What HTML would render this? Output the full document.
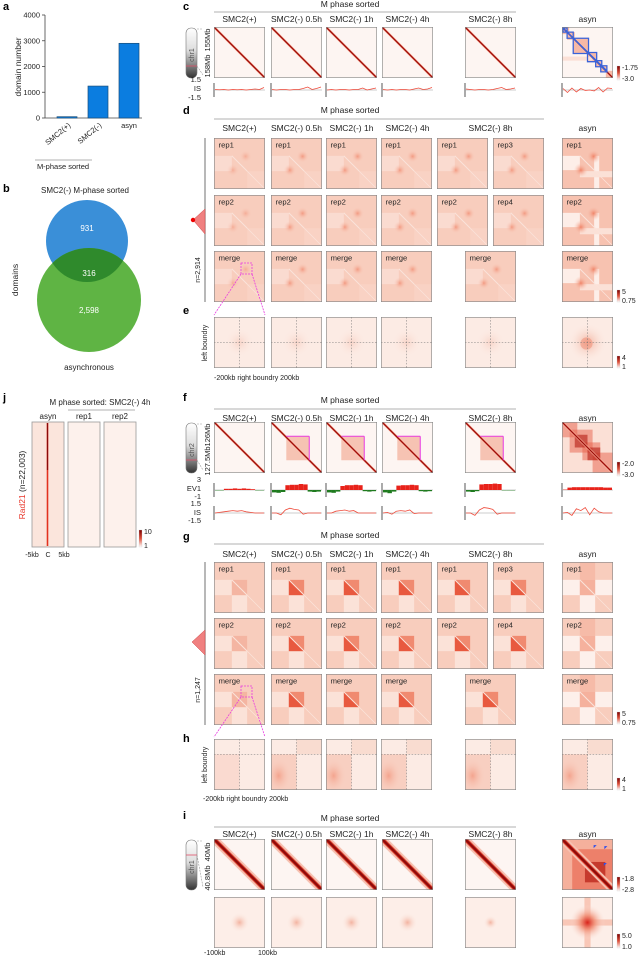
<!DOCTYPE html>
<html><head><meta charset="utf-8"><style>
html,body{margin:0;padding:0;background:#fff;}
svg{display:block;font-family:"Liberation Sans",sans-serif;}
</style></head><body>
<svg id="fig" width="640" height="959" viewBox="0 0 640 959" xmlns="http://www.w3.org/2000/svg">
<defs>
<linearGradient id="chrg" x1="0" y1="0" x2="0" y2="1"><stop offset="0" stop-color="#fff"/><stop offset="0.45" stop-color="#ddd"/><stop offset="1" stop-color="#333"/></linearGradient>
<linearGradient id="cbar" x1="0" y1="0" x2="0" y2="1"><stop offset="0" stop-color="#7a0000"/><stop offset="0.5" stop-color="#e0503a"/><stop offset="1" stop-color="#fff"/></linearGradient>
<radialGradient id="spot"><stop offset="0" stop-color="#d8231a"/><stop offset="0.4" stop-color="#f08a70" stop-opacity="0.8"/><stop offset="1" stop-color="#fbe6de" stop-opacity="0"/></radialGradient>
<radialGradient id="faint"><stop offset="0" stop-color="#f3b3a0"/><stop offset="1" stop-color="#fdf0ea" stop-opacity="0"/></radialGradient>
<radialGradient id="blob"><stop offset="0" stop-color="#f08468"/><stop offset="1" stop-color="#f8c7b6" stop-opacity="0"/></radialGradient>
<radialGradient id="hblob" cx="0.3" cy="0.6"><stop offset="0" stop-color="#f4a48e"/><stop offset="1" stop-color="#f8d0c2" stop-opacity="0"/></radialGradient>
</defs>
<g id="root"></g>
</svg>
<script>
// ---- bar chart data (panel a)
const barCategories = ['SMC2(+)', 'SMC2(-)', 'asyn'];
const barValues = [50, 1240, 2900];
const barTicks = [0, 1000, 2000, 3000, 4000];
// ---- venn data (panel b)
const vennLabels = ['931', '316', '2,598'];
// ---- insulation score tracks (panel c)
const isC = [
 [0.1,0.05,0.1,0.0,0.1,0.05,0.1,0.0,0.1,0.2,0.1,0.5],
 [0.1,0.0,0.1,0.1,0.0,0.1,0.1,0.3,0.6,0.1,0.3,0.6],
 [0.0,0.1,0.0,0.1,0.1,0.0,0.1,0.1,0.4,0.0,0.2,0.4],
 [0.1,0.0,0.1,0.0,0.1,0.1,0.0,0.2,0.4,0.1,0.2,0.5],
 [0.2,0.1,0.0,0.1,0.1,0.0,0.1,0.3,0.5,0.1,0.2,0.4],
 [0.3,-0.5,0.4,-0.4,0.3,-0.1,0.0,-0.2,0.5,-0.4,0.4,0.3]
];
// ---- EV1 tracks (panel f)
const ev1F = [
 [-0.1,-0.1,0.3,0.3,0.4,0.3,0.4,0.3,0.2,-0.1,-0.1,-0.1],
 [-0.6,-0.7,-0.5,1.2,1.3,1.3,1.5,1.4,-0.4,-0.5,-0.4,-0.3],
 [-0.6,-0.7,-0.4,1.0,1.2,1.2,1.3,1.2,-0.3,-0.4,-0.3,-0.2],
 [-0.6,-0.8,-0.4,1.1,1.2,1.2,1.3,1.2,-0.3,-0.4,-0.3,-0.2],
 [-0.4,-0.5,-0.3,1.4,1.5,1.5,1.6,1.5,-0.1,-0.1,-0.1,-0.1],
 [0.1,0.6,0.7,0.7,0.7,0.7,0.7,0.7,0.7,0.6,0.6,0.6]
];
// ---- insulation score tracks (panel f)
const isF = [
 [0.0,0.1,0.2,0.3,0.4,0.3,0.4,0.2,0.1,0.0,0.0,0.0],
 [0.0,0.0,-0.3,0.5,0.8,0.6,0.5,-0.2,0.0,0.0,0.0,0.0],
 [0.0,0.0,0.3,0.4,0.5,0.3,0.4,0.0,0.0,0.0,0.0,0.0],
 [0.0,0.1,-0.2,0.3,0.4,0.3,0.5,-0.1,0.0,0.0,0.0,0.0],
 [0.0,0.0,-0.4,0.5,0.9,0.8,0.6,-0.2,0.0,0.0,0.0,0.0],
 [0.0,0.1,-0.4,0.7,0.4,0.9,-0.3,0.8,0.2,0.0,0.0,0.0]
];

const NS='http://www.w3.org/2000/svg';
const root=document.getElementById('root');
function E(tag,attrs,parent){const el=document.createElementNS(NS,tag);for(const k in attrs)el.setAttribute(k,attrs[k]);(parent||root).appendChild(el);return el;}
function T(x,y,s,size,anchor,parent,extra){const el=E('text',Object.assign({x:x,y:y,'font-size':size,'text-anchor':anchor||'start',fill:'#222'},extra||{}),parent);el.textContent=s;return el;}

[['a',3,10],['b',3,192],['j',3,401],['c',183,10],['d',183,114],['e',183,314],['f',183,401],['g',183,540],['h',183,742],['i',183,819]].forEach(p=>{
 const t=T(p[1],p[2],p[0],11,'start',root,{'font-weight':'bold',fill:'#000'});
 
 
});

// ===== panel a bar chart
const ga=E('g',{});


const ay0=118, ay1=15, ax=45;
const yS=v=>ay0-(v/4000)*(ay0-ay1);
const xS=i=>67+i*31;
const yaxis=E('line',{x1:ax,y1:ay1,x2:ax,y2:ay0,stroke:'#444','stroke-width':0.8},ga);


const xaxis=E('line',{x1:ax,y1:ay0,x2:142,y2:ay0,stroke:'#444','stroke-width':0.8},ga);


barTicks.forEach(v=>{
 E('line',{x1:ax-3,y1:yS(v),x2:ax,y2:yS(v),stroke:'#444','stroke-width':0.8},ga);
 const t=T(ax-5,yS(v)+2.5,String(v),7.5,'end',ga);
 
 
});
const yt=T(0,0,'domain number',8.5,'middle',ga,{transform:'translate(21,67) rotate(-90)'});


barValues.forEach((v,i)=>{
 const b=E('rect',{x:xS(i)-10,y:yS(v),width:20,height:ay0-yS(v),fill:'#0b7de0',stroke:'#1a4f7a','stroke-width':0.7},ga);
 
 
});
barCategories.forEach((c,i)=>{
 let t;
 if(i<2) t=T(0,0,c,7.5,'end',ga,{transform:`translate(${xS(i)+4},${ay0+8}) rotate(-40)`});
 else t=T(xS(i),ay0+10,c,7.5,'middle',ga);
 
 
});
E('line',{x1:35,y1:160,x2:92,y2:160,stroke:'#999','stroke-width':0.8},ga);
const mps=T(63,169,'M-phase sorted',7.5,'middle',ga);



// ===== panel b venn
const gb=E('g',{});


const vt=T(85,193,'SMC2(-) M-phase sorted',8,'middle',gb);


const c1=E('circle',{cx:87,cy:241,r:41,fill:'#3a8fd8'},gb);


const c2=E('circle',{cx:89,cy:300,r:52,fill:'#5ab23e','fill-opacity':0.97},gb);


const cp=E('clipPath',{id:'vclip'},gb);E('circle',{cx:87,cy:241,r:41},cp);
E('circle',{cx:89,cy:300,r:52,fill:'#2f8a2c','clip-path':'url(#vclip)'},gb);
[[87,231,0],[89,276,1],[89,313,2]].forEach(p=>{
 const t=T(p[0],p[1],vennLabels[p[2]],8,'middle',gb,{fill:'#fff'});
 
 
});
const dl=T(0,0,'domains',8.5,'middle',gb,{transform:'translate(18,280) rotate(-90)'});


const asl=T(89,370,'asynchronous',8,'middle',gb);



// ===== panel j
const gj=E('g',{});


const jt=T(100,405,'M phase sorted: SMC2(-) 4h',8,'middle',gj);


E('line',{x1:68,y1:410,x2:135,y2:410,stroke:'#999','stroke-width':0.8},gj);
[['asyn',32],['rep1',68],['rep2',104]].forEach((p,i)=>{
 const t=T(p[1]+16,419,p[0],8,'middle',gj);
 
 
 const r=E('rect',{x:p[1],y:422,width:32,height:125,fill:i==0?'#fbe5dc':'#fdf1ec',stroke:'#999','stroke-width':0.8},gj);
 
 
});
E('line',{x1:47.5,y1:423,x2:47.5,y2:546,stroke:'#e2321f','stroke-width':1.6},gj);
E('line',{x1:47.5,y1:423,x2:47.5,y2:470,stroke:'#8a0a0a','stroke-width':1.2},gj);
const rad=T(0,0,'',8.5,'middle',gj,{transform:'translate(25,485) rotate(-90)'});


const ts1=E('tspan',{fill:'#e8362a'},rad);ts1.textContent='Rad21';
const ts2=E('tspan',{fill:'#222'},rad);ts2.textContent=' (n=22,003)';
[['-5kb',32],['C',48],['5kb',64]].forEach(p=>{const t=T(p[1],557,p[0],7,'middle',gj);
 
 });

function cbar(x,y,h,top,bot){
 const g=E('g',{});
 
 
 E('rect',{x:x,y:y,width:3,height:h,fill:'url(#cbar)',stroke:'#ccc','stroke-width':0.3},g);
 T(x+5,y+4,top,7,'start',g);T(x+5,y+h+1,bot,7,'start',g);
}
cbar(139,530,17,'10','1');

const S=51;
function sq(x,y,type,name,label){
 const g=E('svg',{x:x,y:y,width:S,height:S,viewBox:'0 0 100 100',preserveAspectRatio:'none'});
 
 
 const R=(a)=>E('rect',a,g), P=(a)=>E('polygon',a,g), L=(a)=>E('line',a,g), C=(a)=>E('circle',a,g);
 if(type.startsWith('hic')){
  R({x:0,y:0,width:100,height:100,fill:'#fdf5f2'});
  if(type==='hic-asyn'){
   [[0,0,14],[10,10,15],[22,22,30],[50,50,18],[66,66,12],[76,76,12],[86,86,14]].forEach(b=>R({x:b[0],y:b[1],width:b[2],height:b[2],fill:'#f7b9a6'}));
   R({x:0,y:58,width:60,height:8,fill:'#fbe0d6'});
  }
  if(type==='hic-fasyn'){
   R({x:0,y:0,width:100,height:100,fill:'#fbe0d6'});
   [[0,0,30],[15,15,45],[40,40,35],[60,60,40]].forEach(b=>R({x:b[0],y:b[1],width:b[2],height:b[2],fill:'#e8604a','fill-opacity':0.5}));
   [[25,25,25],[50,50,25]].forEach(b=>R({x:b[0],y:b[1],width:b[2],height:b[2],fill:'#b51d14','fill-opacity':0.6}));
  }
  if(type==='hic-box'){R({x:30,y:28,width:45,height:47,fill:'#f6c3b3'});}
  if(type==='hic-iasyn'){
   R({x:0,y:0,width:100,height:100,fill:'#f5b09c'});
   R({x:20,y:20,width:80,height:80,fill:'#e8604a','fill-opacity':0.6});
   R({x:45,y:45,width:40,height:40,fill:'#b51d14','fill-opacity':0.7});
  }
  const isI=type.startsWith('hic-i');
  L({x1:0,y1:0,x2:100,y2:100,stroke:'#f6c0b0','stroke-width':isI?16:5});
  L({x1:0,y1:0,x2:100,y2:100,stroke:'#d83a28','stroke-width':isI?8:3});
  L({x1:0,y1:0,x2:100,y2:100,stroke:'#8e0a0a','stroke-width':isI?4:1.6});
  if(type==='hic-box'){
   L({x1:30,y1:28,x2:75,y2:28,stroke:'#e83be0','stroke-width':2});
   L({x1:75,y1:28,x2:75,y2:75,stroke:'#e83be0','stroke-width':2});
  }
  if(type==='hic-asyn'){
   P({points:'2,2 10,2 10,10 22,10 22,22 52,22 52,50 68,50 68,66 78,66 78,76 88,76 88,86',fill:'none',stroke:'#3a62d8','stroke-width':2.5});
   P({points:'2,2 2,10 10,10 10,22 22,22 22,52 50,52 50,68 66,68 66,78 76,78 76,88 88,88',fill:'none',stroke:'#3a62d8','stroke-width':2.5});
  }
  if(type==='hic-iasyn'){
   [[62,12],[83,14],[82,47]].forEach(p=>P({points:`${p[0]},${p[1]} ${p[0]+6},${p[1]} ${p[0]},${p[1]+6}`,fill:'#2f4fe8'}));
  }
 } else if(type.startsWith('apa')){
  const k=type.split('-')[1];
  R({x:0,y:0,width:100,height:100,fill:'#f8cdbd'});
  if(k==='da'){
   R({x:0,y:0,width:100,height:100,fill:'#f7c2b0'});
   R({x:0,y:35,width:35,height:28,fill:'#fdeee8'});
   R({x:63,y:35,width:10,height:65,fill:'#fdeee8'});
   R({x:35,y:65,width:65,height:12,fill:'#fbe1d7'});
   C({cx:62,cy:36,r:14,fill:'url(#blob)'});C({cx:37,cy:63,r:14,fill:'url(#blob)'});
  } else if(k.startsWith('d')){
   R({x:0,y:35,width:35,height:30,fill:'#fadbd0'});
   R({x:65,y:65,width:35,height:35,fill:'#f9d2c4'});
   C({cx:62,cy:36,r:12,fill:'url(#blob)','fill-opacity':k==='d1'?0.7:0.45});
   C({cx:37,cy:63,r:12,fill:'url(#blob)','fill-opacity':k==='d1'?0.7:0.45});
  } else {
   const strong=k==='g1';
   R({x:0,y:35,width:35,height:30,fill:k==='ga'?'#fdf0eb':'#fbe2d8'});
   R({x:35,y:65,width:30,height:35,fill:k==='ga'?'#fdf0eb':'#fbe2d8'});
   if(k==='ga'){R({x:65,y:35,width:35,height:30,fill:'#fdf0eb'});R({x:35,y:0,width:30,height:35,fill:'#f6bba8'});}
   R({x:35,y:35,width:30,height:30,fill:strong?'#f08a70':(k==='ga'?'#f5b19d':'#f4b5a2')});
   if(strong) P({points:'35,35 35,65 65,65',fill:'#e5482f','fill-opacity':0.75});
  }
  L({x1:35,y1:35,x2:65,y2:65,stroke:'#fbe3da','stroke-width':2});
  L({x1:65,y1:65,x2:100,y2:100,stroke:'#fbe3da','stroke-width':1.5});
 } else if(type.startsWith('bd')){
  const k=type.split('-')[1];
  R({x:0,y:0,width:100,height:100,fill:'#fcebe4'});
  if(k==='e') C({cx:50,cy:50,r:30,fill:'url(#faint)','fill-opacity':0.4});
  if(k==='ea'){C({cx:50,cy:50,r:40,fill:'url(#faint)'});C({cx:48,cy:52,r:12,fill:'#f08a70','fill-opacity':0.5});}
  if(k==='h0'){R({x:0,y:30,width:50,height:70,fill:'#fadad0'});}
  if(k==='h1'){R({x:0,y:30,width:50,height:70,fill:'#f8cfc1'});R({x:0,y:30,width:50,height:70,fill:'url(#hblob)'});R({x:50,y:0,width:50,height:30,fill:'#f9dcd0'});}
  const hy = k.startsWith('h') ? 30 : 50;
  L({x1:50,y1:0,x2:50,y2:100,stroke:'#777','stroke-width':1,'stroke-dasharray':'3,3'});
  L({x1:0,y1:hy,x2:100,y2:hy,stroke:'#777','stroke-width':1,'stroke-dasharray':'3,3'});
 } else if(type.startsWith('pk')){
  R({x:0,y:0,width:100,height:100,fill:'#fdeee8'});
  if(type==='pk-a'){
   R({x:0,y:44,width:100,height:12,fill:'#f6b7a3','fill-opacity':0.7});
   R({x:44,y:0,width:12,height:100,fill:'#f6b7a3','fill-opacity':0.7});
   C({cx:50,cy:50,r:35,fill:'url(#spot)'});
  } else {
   C({cx:50,cy:50,r:type==='pk-8'?14:20,fill:'url(#faint)'});
  }
 }
 R({x:0,y:0,width:100,height:100,fill:'none',stroke:'#888','stroke-width':2.5});
 if(label){const t=E('text',{x:9,y:19,'font-size':15,fill:'#222','font-family':'Liberation Sans, sans-serif'},g);t.textContent=label;}
 return g;
}

const headers=['SMC2(+)','SMC2(-) 0.5h','SMC2(-) 1h','SMC2(-) 4h','SMC2(-) 8h','asyn'];
const colX=[214,271,326,382,465,562];
const col7=[214,271,326,381,437,493,562];
const mergeX=[214,271,326,381,465,562];

function heading(ty,ly,hy,lx2,name){
 const g=E('g',{});
 
 
 T(350,ty,'M phase sorted',8.5,'middle',g);
 E('line',{x1:214,y1:ly,x2:lx2,y2:ly,stroke:'#999','stroke-width':0.8},g);
 headers.forEach((h,i)=>{const t=T(colX[i]+25.5,hy,h,8.5,'middle',g);
  
  });
}
function chrom(y,band,l1,l2){
 const g=E('g',{});
 
 
 E('rect',{x:186,y:y+1,width:11,height:50,rx:5,fill:'url(#chrg)',stroke:'#777','stroke-width':0.6},g);
 E('line',{x1:186,y1:y+band,x2:197,y2:y+band,stroke:'#e0506a','stroke-width':0.8},g);
 E('line',{x1:197,y1:y+2,x2:203,y2:y+2,stroke:'#999','stroke-width':0.6,'stroke-dasharray':'2,1'},g);
 E('line',{x1:197,y1:y+band,x2:203,y2:y+48,stroke:'#999','stroke-width':0.6,'stroke-dasharray':'2,1'},g);
 T(0,0,'chr'+l1,7,'middle',g,{transform:`translate(194,${y+28}) rotate(-90)`,fill:'#555'});
 T(0,0,l2[0],7.5,'middle',g,{transform:`translate(210,${y+13}) rotate(-90)`});
 T(0,0,l2[1],7.5,'middle',g,{transform:`translate(210,${y+39}) rotate(-90)`});
}
function track(x,y,h,vals,scale,kind,name){
 const g=E('g',{});
 
 
 const base=y+h/2, xs=i=>x+1+i*(S-2)/(vals.length-1), ys=v=>base-v*scale;
 E('line',{x1:x,y1:y,x2:x,y2:y+h,stroke:'#444','stroke-width':0.9},g);
 E('line',{x1:x,y1:base,x2:x+S,y2:base,stroke:'#999','stroke-width':0.6},g);
 if(kind==='ev'){
  vals.forEach((v,i)=>{if(i==vals.length-1)return;const w=(S-2)/(vals.length-1);
   const r=E('rect',{x:xs(i),y:v>0?ys(v):base,width:w,height:Math.abs(v*scale),fill:v>0?'#e8221a':'#1e7a1e'},g);
   
   });
 } else {
  const pl=E('polyline',{points:vals.map((v,i)=>xs(i)+','+ys(v)).join(' '),fill:'none',stroke:'#ee4a3a','stroke-width':0.8},g);
  
  
 }
}

// ===== panel c
heading(7,12,22,516,'panel-c-headers');
chrom(27,39,'1',['155Mb','158Mb']);
colX.forEach((x,i)=>{sq(x,27,i==5?'hic-asyn':'hic','hic-map-c-'+i);track(x,83,14,isC[i],5,'is','is-track-c-'+i);});
T(201,82,'1.5',7.5,'end');T(201,91,'IS',7.5,'end');T(201,100,'-1.5',7.5,'end');
cbar(617,66,14,'-1.75','-3.0');
// ===== panel d
heading(113,119,131,544,'panel-d-headers');
const dRows=[138,195,251];
const dLab7=[['rep1','rep1','rep1','rep1','rep1','rep3','rep1'],['rep2','rep2','rep2','rep2','rep2','rep4','rep2']];
for(let r=0;r<2;r++) col7.forEach((x,i)=>sq(x,dRows[r],i==6?'apa-da':(i==0?'apa-d0':'apa-d1'),'apa-d-r'+r+'-c'+i,dLab7[r][i]));
mergeX.forEach((x,i)=>sq(x,dRows[2],i==5?'apa-da':(i==0?'apa-d0':'apa-d1'),'apa-d-merge-'+i,'merge'));
E('line',{x1:205,y1:138,x2:205,y2:302,stroke:'#888','stroke-width':1.2});
E('polygon',{points:'193,220 205,209 205,234',fill:'#f08080',stroke:'#c44','stroke-width':0.5});
E('circle',{cx:193,cy:220,r:2.2,fill:'#e00'});
T(0,0,'n=2,914',7,'middle',root,{transform:'translate(200,270) rotate(-90)'});
E('rect',{x:241,y:263,width:11,height:11,fill:'none',stroke:'#e83be0','stroke-width':0.8,'stroke-dasharray':'2,1'});
E('line',{x1:241,y1:274,x2:214,y2:315,stroke:'#e83be0','stroke-width':0.8,'stroke-dasharray':'2,1'});
E('line',{x1:252,y1:274,x2:265,y2:315,stroke:'#e83be0','stroke-width':0.8,'stroke-dasharray':'2,1'});
cbar(617,290,12,'5','0.75');
// ===== panel e
mergeX.forEach((x,i)=>sq(x,317,i==5?'bd-ea':'bd-e','boundary-e-'+i));
T(0,0,'left boundry',7,'middle',root,{transform:'translate(207,343) rotate(-90)'});
T(214,380,'-200kb  right boundry  200kb',7,'start');
cbar(617,356,12,'4','1');
// ===== panel f
heading(403,409,421,516,'panel-f-headers');
chrom(422,38,'2',['126Mb','127.5Mb']);
colX.forEach((x,i)=>{sq(x,422,i==0?'hic':(i==5?'hic-fasyn':'hic-box'),'hic-map-f-'+i);
 track(x,483,14,ev1F[i],4,'ev','ev1-track-f-'+i);track(x,506,14,isF[i],6,'is','is-track-f-'+i);});
T(201,482,'3',7.5,'end');T(201,491,'EV1',7.5,'end');T(201,499,'-1',7.5,'end');
T(201,506,'1.5',7.5,'end');T(201,515,'IS',7.5,'end');T(201,523,'-1.5',7.5,'end');
cbar(617,462,14,'-2.0','-3.0');
// ===== panel g
heading(538,544,557,544,'panel-g-headers');
const gRows=[562,618,674];
for(let r=0;r<2;r++) col7.forEach((x,i)=>sq(x,gRows[r],i==6?'apa-ga':(i==0?'apa-g0':'apa-g1'),'apa-g-r'+r+'-c'+i,dLab7[r][i]));
mergeX.forEach((x,i)=>sq(x,gRows[2],i==5?'apa-ga':(i==0?'apa-g0':'apa-g1'),'apa-g-merge-'+i,'merge'));
E('line',{x1:205,y1:562,x2:205,y2:725,stroke:'#888','stroke-width':1.2});
E('polygon',{points:'192,642 205,630 205,655',fill:'#f08080',stroke:'#c44','stroke-width':0.5});
T(0,0,'n=1,247',7,'middle',root,{transform:'translate(200,690) rotate(-90)'});
E('rect',{x:241,y:686,width:11,height:11,fill:'none',stroke:'#e83be0','stroke-width':0.8,'stroke-dasharray':'2,1'});
E('line',{x1:241,y1:697,x2:214,y2:737,stroke:'#e83be0','stroke-width':0.8,'stroke-dasharray':'2,1'});
E('line',{x1:252,y1:697,x2:265,y2:737,stroke:'#e83be0','stroke-width':0.8,'stroke-dasharray':'2,1'});
cbar(617,712,12,'5','0.75');
// ===== panel h
mergeX.forEach((x,i)=>sq(x,739,i==0?'bd-h0':'bd-h1','boundary-h-'+i));
T(0,0,'left boundry',7,'middle',root,{transform:'translate(207,765) rotate(-90)'});
T(203,801,'-200kb  right boundry  200kb',7,'start');
cbar(617,778,12,'4','1');
// ===== panel i
heading(821,827,837,516,'panel-i-headers');
chrom(839,16,'1',['40Mb','40.8Mb']);
colX.forEach((x,i)=>{sq(x,839,i==5?'hic-iasyn':'hic-i','hic-map-i-'+i);sq(x,897,i==5?'pk-a':(i==4?'pk-8':'pk'),'pileup-i-'+i);});
T(204,955,'-100kb',7,'start');T(258,955,'100kb',7,'start');
cbar(617,877,14,'-1.8','-2.8');
cbar(617,934,14,'5.0','1.0');
</script>
</body></html>
